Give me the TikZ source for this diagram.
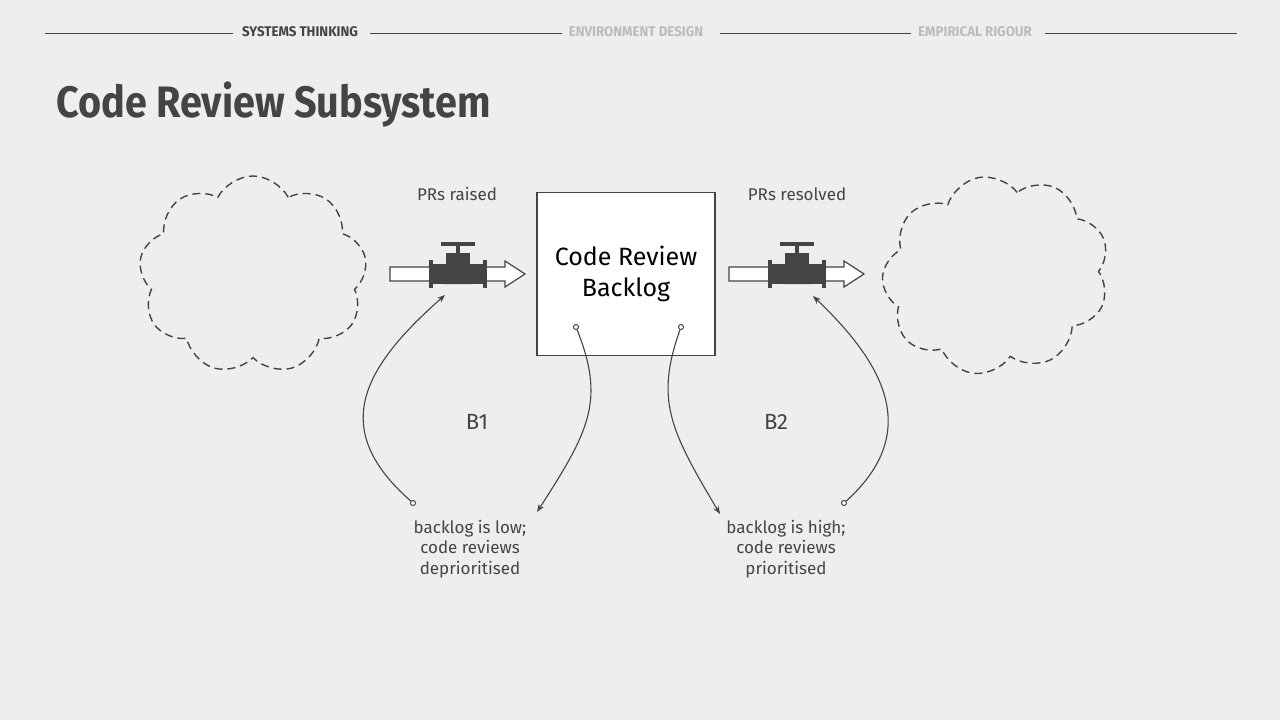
\documentclass[tikz,border=0pt]{standalone}
\usepackage{fontspec}
\setmainfont{Fira Sans}
\usetikzlibrary{shapes.symbols,arrows.meta}
\definecolor{bg}{HTML}{EEEEEE}
\definecolor{ink}{HTML}{444444}
\definecolor{faint}{HTML}{BBBBBB}
\newcommand{\px}[1]{\fontsize{#1pt}{1.22\dimexpr #1pt\relax}\selectfont}

\begin{document}
\begin{tikzpicture}[
  x=1pt, y=-1pt,
  cloudnode/.style={draw=ink,line width=1.4pt,shape=cloud,cloud puffs=9,cloud puff arc=125,
    aspect=1.15,minimum width=228pt,minimum height=198pt,dash pattern=on 8pt off 5pt},
  hdr/.style={font=\px{14}\bfseries,inner sep=0pt,xscale=0.95},
  lbl/.style={font=\px{17},text=ink,align=center},
  link/.style={draw=ink,line width=1.1pt,-{Stealth[length=8pt,width=6pt]}},
  dot/.style={circle,draw=ink,line width=1pt,fill=white,inner sep=0pt,minimum size=5pt},
  ]
  \tikzset{%
    flow/.pic={
      \draw[ink,fill=white,line width=1.2pt] (-68,-7) -- (47,-7) -- (47,-13) -- (67,0) -- (47,13) -- (47,7) -- (-68,7) -- cycle;
      \fill[ink] (-26,-10) rectangle (27,10);
      \fill[ink] (-29,-14) rectangle (-25,14);
      \fill[ink] (25,-14) rectangle (29,14);
      \fill[ink] (-12,-21) rectangle (12,-10);
      \fill[ink] (-2,-28) rectangle (2,-21);
      \fill[ink] (-17,-32) rectangle (17,-28);
      \fill[ink] (-14,10) arc (180:360:14 and 4);
    },
  }
  \fill[bg] (0,0) rectangle (1280,720);
  %Header
  \node[hdr,text=ink] (h1) at (300,32) {SYSTEMS THINKING};
  \node[hdr,text=faint] (h2) at (636,32) {ENVIRONMENT DESIGN};
  \node[hdr,text=faint] (h3) at (975,32) {EMPIRICAL RIGOUR};
  \coordinate (hl) at (45,33);
  \coordinate (hr) at (1237,33);
  \draw[ink,line width=1pt] (hl) -- (233,33) (370,33) -- (562,33)
    (720,33) -- (911,33) (1045,33) -- (hr);
  \node[anchor=base west,font=\px{44}\bfseries,text=ink,inner sep=0pt,xscale=0.9] (title) at (56,117) {Code Review Subsystem};
  %Stocks and flows
  \node[cloudnode] (src) at (253,275) {};
  \node[cloudnode,rotate=10] (sink) at (996,275) {};
  \node[draw=ink,fill=white,line width=1.2pt,minimum width=178pt,minimum height=163pt,font=\px{25},align=center,inner sep=0pt] (stock) at (626,274) {Code Review\\Backlog};
  \pic at (458,274) {flow};
  \pic at (797,274) {flow};
  \coordinate (v1) at (445,295);
  \coordinate (v2) at (813,296);
  \node[lbl] (in) at (457,194) {PRs raised};
  \node[lbl] (out) at (797,194) {PRs resolved};
  \node[font=\px{22},text=ink] (b1) at (477,422) {B1};
  \node[font=\px{22},text=ink] (b2) at (776,422) {B2};
  %Feedback
  \node[lbl] (low) at (470,549) {backlog is low;\\code reviews\\deprioritised};
  \node[lbl] (high) at (786,549) {backlog is high;\\code reviews\\prioritised};
  \node[dot] (d1) at (413,503) {};
  \node[dot] (d2) at (576,327) {};
  \node[dot] (d3) at (681,327) {};
  \node[dot] (d4) at (844,503) {};
  \draw[link] (d1) .. controls (330,430) and (360,370) .. (v1);
  \draw[link] (d2) .. controls (605,400) and (590,430) .. (537,512);
  \draw[link] (d3) .. controls (655,400) and (670,430) .. (720,514);
  \draw[link] (d4) .. controls (925,430) and (880,360) .. (v2);
\end{tikzpicture}
\end{document}
